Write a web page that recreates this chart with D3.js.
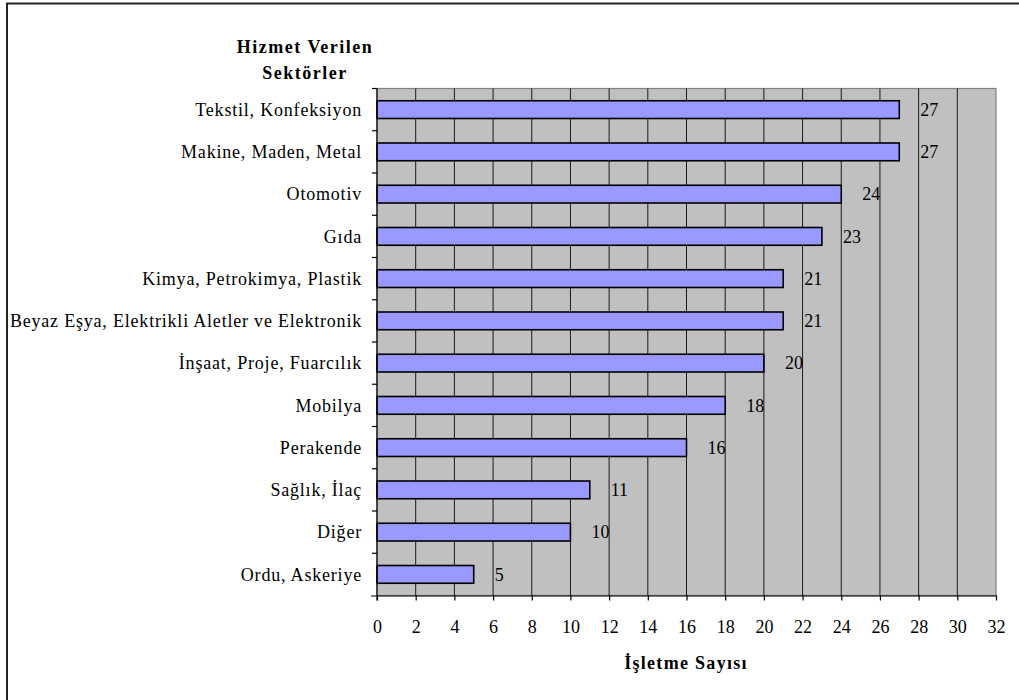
<!DOCTYPE html>
<html>
<head>
<meta charset="utf-8">
<script src="https://cdn.jsdelivr.net/npm/d3@7"></script>
<style>
  html, body { margin: 0; padding: 0; background: #fff; }
  svg { display: block; }
</style>
</head>
<body>
<script>
// Sectors served and number of businesses per sector
const sectors = [
  "Tekstil, Konfeksiyon",
  "Makine, Maden, Metal",
  "Otomotiv",
  "Gıda",
  "Kimya, Petrokimya, Plastik",
  "Beyaz Eşya, Elektrikli Aletler ve Elektronik",
  "İnşaat, Proje, Fuarcılık",
  "Mobilya",
  "Perakende",
  "Sağlık, İlaç",
  "Diğer",
  "Ordu, Askeriye"
];
const counts = [27, 27, 24, 23, 21, 21, 20, 18, 16, 11, 10, 5];
const xTicks = [0, 2, 4, 6, 8, 10, 12, 14, 16, 18, 20, 22, 24, 26, 28, 30, 32];
const yTitleLines = ["Hizmet Verilen", "Sektörler"];
const xTitle = "İşletme Sayısı";

const FONT = '"Liberation Serif", "Times New Roman", Times, serif';
const W = 1019, H = 700;
const plot = { left: 377, right: 996, top: 88.5, bottom: 595.5 };

const svg = d3.select("body").append("svg")
  .attr("width", W).attr("height", H);

// outer frame
svg.append("rect")
  .attr("x", 7).attr("y", 3.5)
  .attr("width", W + 10).attr("height", H + 10)
  .attr("fill", "none").attr("stroke", "#222").attr("stroke-width", 2);

const x = d3.scaleLinear().domain([0, 32]).range([plot.left, plot.right]);
const y = d3.scaleBand().domain(sectors).range([plot.top, plot.bottom]).paddingInner(0).paddingOuter(0);
const barH = y.bandwidth() * 0.42;

// plot background
svg.append("rect")
  .attr("x", plot.left).attr("y", plot.top)
  .attr("width", plot.right - plot.left).attr("height", plot.bottom - plot.top)
  .attr("fill", "#c0c0c0").attr("stroke", "#808080").attr("stroke-width", 1.2);

// vertical gridlines
svg.append("g").selectAll("line")
  .data(xTicks.filter(t => t > 0 && t < 32))
  .join("line")
  .attr("x1", d => x(d)).attr("x2", d => x(d))
  .attr("y1", plot.top).attr("y2", plot.bottom)
  .attr("stroke", "#1a1a1a").attr("stroke-width", 1);

// bars
svg.append("g").selectAll("rect")
  .data(sectors)
  .join("rect")
  .attr("x", x(0))
  .attr("y", d => y(d) + y.bandwidth() / 2 - barH / 2)
  .attr("width", (d, i) => x(counts[i]) - x(0))
  .attr("height", barH)
  .attr("fill", "#9999ff")
  .attr("stroke", "#000").attr("stroke-width", 1.6);

// value labels
svg.append("g").selectAll("text")
  .data(sectors)
  .join("text")
  .attr("x", (d, i) => x(counts[i]) + 21)
  .attr("y", d => y(d) + y.bandwidth() / 2)
  .attr("dy", "0.35em")
  .attr("font-size", 18)
  .style("font-family", FONT)
  .attr("fill", "#000")
  .text((d, i) => counts[i]);

// x axis
const xAxis = svg.append("g")
  .attr("transform", `translate(0,${plot.bottom})`)
  .call(d3.axisBottom(x).tickValues(xTicks).tickSize(5).tickPadding(20).tickSizeOuter(0));
xAxis.select(".domain").attr("stroke", "#000").attr("stroke-width", 1.2)
  .attr("d", `M${plot.left - 6},0.5H${plot.right}`);
xAxis.selectAll(".tick line").attr("stroke", "#000").attr("stroke-width", 1.2);
xAxis.selectAll(".tick text")
  .style("font-family", FONT).attr("font-size", 18).attr("fill", "#000");

// y axis: ticks sit on category boundaries
const yAxis = svg.append("g").attr("transform", `translate(${plot.left},0)`);
yAxis.append("line")
  .attr("x1", 0).attr("x2", 0).attr("y1", plot.top).attr("y2", plot.bottom + 5)
  .attr("stroke", "#000").attr("stroke-width", 1.2);
yAxis.selectAll("line.tk")
  .data(sectors)
  .join("line").attr("class", "tk")
  .attr("x1", -5).attr("x2", 0)
  .attr("y1", d => y(d)).attr("y2", d => y(d))
  .attr("stroke", "#000").attr("stroke-width", 1.2);
yAxis.selectAll("text")
  .data(sectors)
  .join("text")
  .attr("x", -15)
  .attr("y", d => y(d) + y.bandwidth() / 2)
  .attr("dy", "0.35em")
  .attr("text-anchor", "end")
  .attr("font-size", 18)
  .attr("letter-spacing", 0.8)
  .style("font-family", FONT)
  .attr("fill", "#000")
  .text(d => d);

// axis titles
svg.append("text")
  .attr("y", 47)
  .attr("text-anchor", "middle")
  .attr("font-size", 18).attr("font-weight", "bold").attr("letter-spacing", 1.5)
  .style("font-family", FONT)
  .selectAll("tspan")
  .data(yTitleLines)
  .join("tspan")
  .attr("x", 305)
  .attr("dy", (d, i) => i === 0 ? "0.35em" : 26)
  .text(d => d);

svg.append("text")
  .attr("x", 686).attr("y", 663)
  .attr("dy", "0.35em")
  .attr("text-anchor", "middle")
  .attr("font-size", 18).attr("font-weight", "bold").attr("letter-spacing", 1.3)
  .style("font-family", FONT)
  .text(xTitle);
</script>
</body>
</html>
